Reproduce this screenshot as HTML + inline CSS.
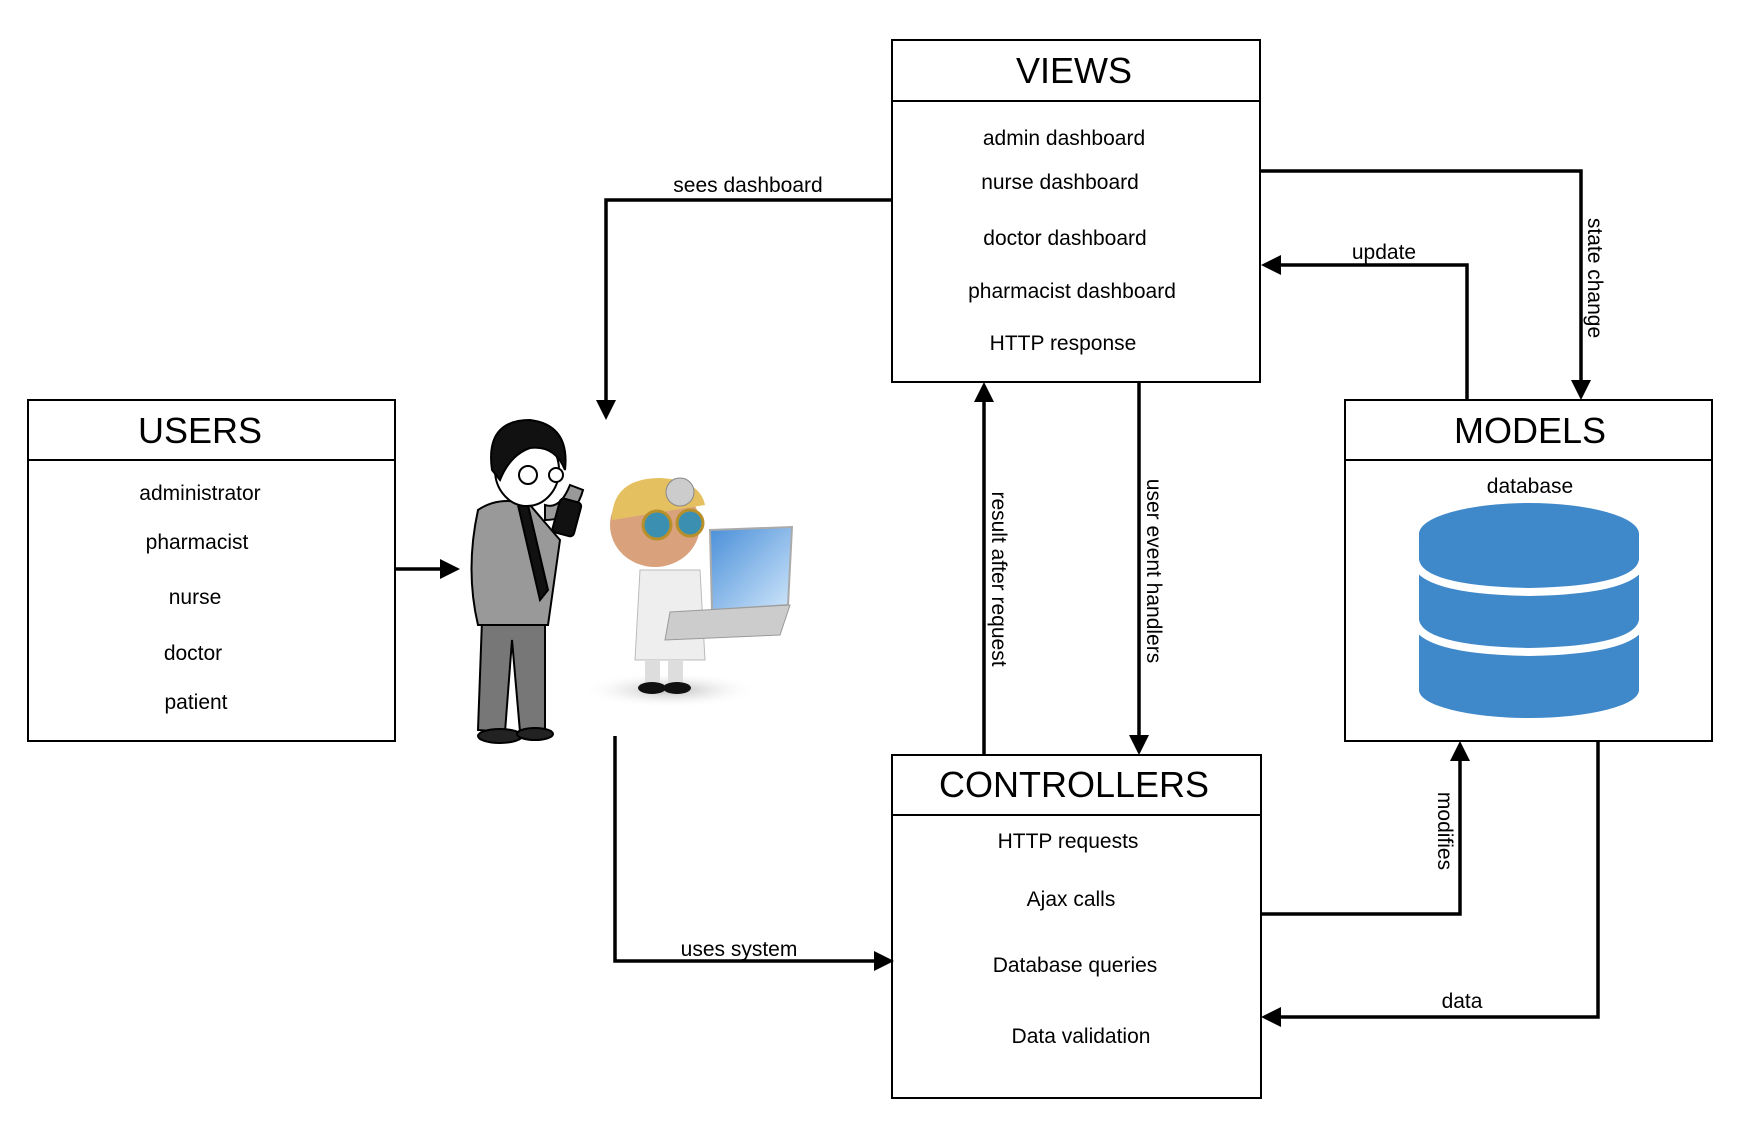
<!DOCTYPE html>
<html><head><meta charset="utf-8"><style>
html,body{margin:0;padding:0;background:#fff}
svg{display:block}
text{font-family:"Liberation Sans",sans-serif;fill:#000}
</style></head><body>
<svg width="1754" height="1139" viewBox="0 0 1754 1139" xmlns="http://www.w3.org/2000/svg">
<defs>
<radialGradient id="sh" cx="50%" cy="50%" r="50%"><stop offset="0" stop-color="#bbb"/><stop offset="1" stop-color="#fff" stop-opacity="0"/></radialGradient>
<linearGradient id="scr" x1="0" y1="0" x2="1" y2="1"><stop offset="0" stop-color="#4a8fd8"/><stop offset="1" stop-color="#cfe6fb"/></linearGradient>
</defs>
<g fill="none" stroke="#000" stroke-width="2">
<rect x="28" y="400" width="367" height="341"/><line x1="28" y1="460" x2="395" y2="460"/>
<rect x="892" y="40" width="368" height="342"/><line x1="892" y1="101" x2="1260" y2="101"/>
<rect x="1345" y="400" width="367" height="341"/><line x1="1345" y1="460" x2="1712" y2="460"/>
<rect x="892" y="755" width="369" height="343"/><line x1="892" y1="815" x2="1261" y2="815"/>
</g>
<g fill="none" stroke="#000" stroke-width="3.5">
<polyline points="892,200 606,200 606,405"/>
<line x1="395" y1="569" x2="446" y2="569"/>
<polyline points="615,736 615,961 880,961"/>
<line x1="984" y1="755" x2="984" y2="396"/>
<line x1="1139" y1="382" x2="1139" y2="741"/>
<polyline points="1260,171 1581,171 1581,386"/>
<polyline points="1467,400 1467,265 1275,265"/>
<polyline points="1261,914 1460,914 1460,755"/>
<polyline points="1598,741 1598,1017 1275,1017"/>
</g>
<g fill="#000">
<polygon points="596,400 616,400 606,420"/>
<polygon points="440,559 440,579 460,569"/>
<polygon points="874,951 874,971 894,961"/>
<polygon points="974,402 994,402 984,382"/>
<polygon points="1129,735 1149,735 1139,755"/>
<polygon points="1571,380 1591,380 1581,400"/>
<polygon points="1281,255 1281,275 1261,265"/>
<polygon points="1450,761 1470,761 1460,741"/>
<polygon points="1281,1007 1281,1027 1261,1017"/>
</g>
<g font-size="36" text-anchor="middle">
<text x="200" y="443">USERS</text>
<text x="1074" y="83">VIEWS</text>
<text x="1530" y="443">MODELS</text>
<text x="1074" y="797">CONTROLLERS</text>
</g>
<g font-size="21" text-anchor="middle">
<text x="200" y="500">administrator</text>
<text x="197" y="549">pharmacist</text>
<text x="195" y="604">nurse</text>
<text x="193" y="660">doctor</text>
<text x="196" y="709">patient</text>
<text x="1064" y="145">admin dashboard</text>
<text x="1060" y="189">nurse dashboard</text>
<text x="1065" y="245">doctor dashboard</text>
<text x="1072" y="298">pharmacist dashboard</text>
<text x="1063" y="350">HTTP response</text>
<text x="1530" y="493">database</text>
<text x="1068" y="848">HTTP requests</text>
<text x="1071" y="906">Ajax calls</text>
<text x="1075" y="972">Database queries</text>
<text x="1081" y="1043">Data validation</text>
<text x="748" y="192">sees dashboard</text>
<text x="739" y="956">uses system</text>
<text x="1384" y="259">update</text>
<text x="1462" y="1008">data</text>
<text transform="translate(992,579) rotate(90)">result after request</text>
<text transform="translate(1147,571) rotate(90)">user event handlers</text>
<text transform="translate(1588,278) rotate(90)">state change</text>
<text transform="translate(1438,831) rotate(90)">modifies</text>
</g>
<!-- database cylinder -->
<g fill="#3f88c9">
<path d="M1419,534 L1419,690 A110,28 0 0 0 1639,690 L1639,534 Z"/>
<ellipse cx="1529" cy="534" rx="110" ry="31"/>
</g>
<g fill="none" stroke="#fff" stroke-width="8">
<path d="M1415,560 Q1419,590 1529,592 Q1639,590 1643,560"/>
<path d="M1415,620 Q1419,650 1529,652 Q1639,650 1643,620"/>
</g>
<!-- people -->
<ellipse cx="670" cy="690" rx="90" ry="18" fill="url(#sh)"/>
<g stroke="#000" stroke-width="2">
<path d="M482,620 L478,730 L505,732 L512,640 L520,732 L545,730 L545,620 Z" fill="#777"/>
<ellipse cx="500" cy="736" rx="22" ry="7" fill="#222"/>
<ellipse cx="535" cy="734" rx="18" ry="6" fill="#222"/>
<path d="M478,510 Q500,495 530,505 L560,540 L548,625 L478,625 Q465,570 478,510 Z" fill="#999"/>
<path d="M518,505 L540,600 L548,590 L528,505 Z" fill="#111"/>
<path d="M545,520 Q575,520 583,490 L570,485 Q560,510 545,505 Z" fill="#999"/>
<ellipse cx="527" cy="470" rx="32" ry="36" fill="#fff"/>
<path d="M492,470 Q485,420 530,420 Q570,425 565,470 Q555,445 530,448 Q510,455 500,480 Z" fill="#111"/>
<circle cx="528" cy="475" r="9" fill="#fff"/><circle cx="556" cy="475" r="7" fill="#fff"/>
<rect x="556" y="500" width="22" height="35" rx="4" fill="#111" transform="rotate(15 567 517)"/>
</g>
<g stroke-width="1">
<path d="M640,570 L700,570 L705,660 L635,660 Z" fill="#eee" stroke="#bbb"/>
<rect x="645" y="660" width="15" height="25" fill="#ddd"/><rect x="668" y="660" width="15" height="25" fill="#ddd"/>
<ellipse cx="652" cy="688" rx="14" ry="6" fill="#111"/><ellipse cx="677" cy="688" rx="14" ry="6" fill="#111"/>
<ellipse cx="655" cy="525" rx="45" ry="42" fill="#d9a27c"/>
<path d="M612,515 Q615,478 660,478 Q700,480 705,505 L612,520 Z" fill="#e5c060"/>
<circle cx="680" cy="492" r="14" fill="#ccc" stroke="#888"/>
<circle cx="657" cy="525" r="14" fill="#3b8fb0" stroke="#b8902a" stroke-width="3"/>
<circle cx="690" cy="523" r="13" fill="#3b8fb0" stroke="#b8902a" stroke-width="3"/>
<path d="M710,530 L792,527 L788,605 L712,610 Z" fill="url(#scr)" stroke="#aaa" stroke-width="2"/>
<path d="M670,612 L790,605 L780,635 L665,640 Z" fill="#ccc" stroke="#999"/>
</g>
</svg>
</body></html>
